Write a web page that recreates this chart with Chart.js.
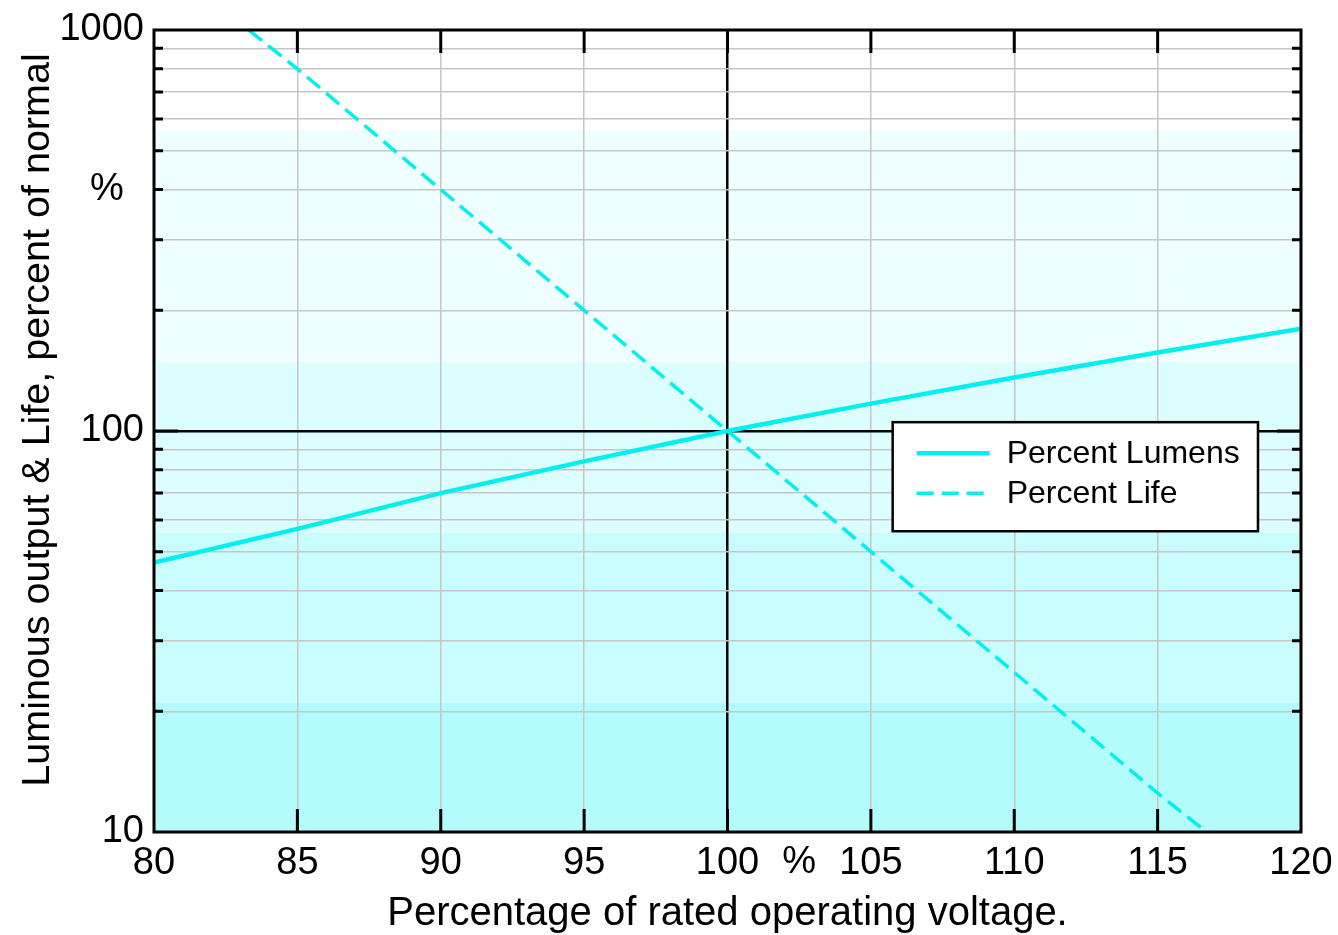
<!DOCTYPE html>
<html><head><meta charset="utf-8">
<script src="https://cdn.jsdelivr.net/npm/chart.js@4.4.1/dist/chart.umd.min.js"></script>
<style>html,body{margin:0;padding:0;background:#fff;overflow:hidden}#wrap{width:1338px;height:935px}</style>
</head><body><div id="wrap"><canvas id="c" width="1338" height="935"></canvas></div>
<script>
// ---- data ----
const lumensVoltage = [80, 85, 90, 95, 100, 105, 110, 115, 120];
const lumensPercent = [47, 57, 70, 84, 100, 117, 136, 157, 180];
const lifeVoltage = [83.3, 85, 90, 95, 100, 105, 110, 115, 116.7];
const lifePercent = [1000, 800, 400, 200, 100, 50, 25, 12.5, 10];
const xTicks = [80, 85, 90, 95, 100, 105, 110, 115, 120];
const yTicks = [10, 20, 30, 40, 50, 60, 70, 80, 90, 100, 200, 300, 400, 500, 600, 700, 800, 900, 1000];
const yLabels = {10: '10', 100: '100', 1000: '1000'};
const seriesNames = ['Percent Lumens', 'Percent Life'];
const xTitle = 'Percentage of rated operating voltage.';
const yTitle = 'Luminous output & Life, percent of normal';
const unitMark = '%';

const FONT = "'Liberation Sans', Arial, Helvetica, sans-serif";
const CYAN = '#00f0f0';

const bgPlugin = {
  id: 'bg',
  beforeDraw(chart) {
    const {ctx, chartArea: a} = chart;
    ctx.save();
    ctx.fillStyle = '#fff';
    ctx.fillRect(0, 0, chart.width, chart.height);
    const h = a.bottom - a.top;
    const bands = [[0, 0.125, '#ffffff'], [0.125, 0.414, '#effefe'], [0.414, 0.627, '#dcfefe'], [0.627, 0.839, '#cafdfd'], [0.839, 1, '#b4fcfc']];
    bands.forEach(([f0, f1, c]) => {
      ctx.fillStyle = c;
      ctx.fillRect(a.left, a.top + f0 * h, a.right - a.left, (f1 - f0) * h + 0.5);
    });
    ctx.restore();
  }
};

const framePlugin = {
  id: 'frame',
  afterDatasetsDraw(chart) {
    const {ctx, chartArea: {left, right, top, bottom}, scales: {x, y}} = chart;
    ctx.save();
    ctx.strokeStyle = '#000';
    ctx.lineWidth = 3;
    ctx.beginPath();
    yTicks.forEach(v => {
      if (v === 10 || v === 1000) return;
      const py = y.getPixelForValue(v);
      const len = v === 100 ? 24 : 9;
      ctx.moveTo(left, py); ctx.lineTo(left + len, py);
      ctx.moveTo(right, py); ctx.lineTo(right - len, py);
    });
    xTicks.forEach(v => {
      if (v === 80 || v === 120) return;
      const px = x.getPixelForValue(v);
      ctx.moveTo(px, bottom); ctx.lineTo(px, bottom - 23);
      ctx.moveTo(px, top); ctx.lineTo(px, top + 23);
    });
    ctx.stroke();
    ctx.strokeRect(left, top, right - left, bottom - top);

    // legend box
    const w = right - left, h = bottom - top;
    const bl = left + 0.644 * w, br = left + 0.9625 * w;
    const bt = top + 0.489 * h, bb = top + 0.625 * h;
    ctx.fillStyle = '#fff';
    ctx.fillRect(bl, bt, br - bl, bb - bt);
    ctx.lineWidth = 2.5;
    ctx.strokeRect(bl, bt, br - bl, bb - bt);
    const ds = chart.data.datasets;
    const rows = [bt + 31, bt + 71];
    ds.forEach((d, i) => {
      ctx.save();
      ctx.strokeStyle = d.borderColor;
      ctx.lineWidth = d.borderWidth;
      ctx.setLineDash(d.borderDash || []);
      ctx.beginPath();
      ctx.moveTo(bl + 24, rows[i]); ctx.lineTo(bl + 97, rows[i]);
      ctx.stroke();
      ctx.restore();
      ctx.fillStyle = '#000';
      ctx.font = '32px ' + FONT;
      ctx.textBaseline = 'middle';
      ctx.textAlign = 'left';
      ctx.fillText(d.label, bl + 114, rows[i] + 1);
    });

    // unit marks
    ctx.font = '38px ' + FONT;
    ctx.textAlign = 'center';
    ctx.textBaseline = 'middle';
    ctx.fillText(unitMark, 107, y.getPixelForValue(400));
    ctx.fillText(unitMark, x.getPixelForValue(102.5), bottom + 31);
    ctx.restore();
  }
};

new Chart(document.getElementById('c'), {
  type: 'scatter',
  data: {
    datasets: [
      {label: seriesNames[0], data: lumensVoltage.map((v, i) => ({x: v, y: lumensPercent[i]})),
        showLine: true, borderColor: CYAN, backgroundColor: CYAN, borderWidth: 4.5, pointRadius: 0, tension: 0},
      {label: seriesNames[1], data: lifeVoltage.map((v, i) => ({x: v, y: lifePercent[i]})),
        showLine: true, borderColor: CYAN, backgroundColor: CYAN, borderWidth: 3.5, borderDash: [17, 8], pointRadius: 0, tension: 0}
    ]
  },
  options: {
    responsive: false, animation: false, devicePixelRatio: 1,
    layout: {padding: {top: 30, right: 37, left: 0, bottom: 0}},
    plugins: {legend: {display: false}, tooltip: {enabled: false}},
    scales: {
      x: {
        type: 'linear', min: 80, max: 120,
        afterBuildTicks: s => { s.ticks = xTicks.map(v => ({value: v})); },
        afterFit: s => { s.height = 103; s.paddingLeft = 0; s.paddingRight = 0; },
        ticks: {font: {family: FONT, size: 38}, color: '#000', padding: 9, maxRotation: 0, autoSkip: false},
        grid: {color: c => (c.tick && c.tick.value === 100) ? '#000' : '#c6c6c6',
               lineWidth: c => (c.tick && c.tick.value === 100) ? 2.5 : 1.5, drawTicks: false},
        border: {display: false},
        title: {display: true, text: xTitle, color: '#000', font: {family: FONT, size: 40, lineHeight: 1}, padding: {top: 0, bottom: 1}}
      },
      y: {
        type: 'logarithmic', min: 10, max: 1000,
        afterBuildTicks: s => { s.ticks = yTicks.map(v => ({value: v})); },
        afterFit: s => { s.width = 154; s.paddingTop = 0; s.paddingBottom = 0; },
        ticks: {font: {family: FONT, size: 38}, color: '#000', padding: 10, autoSkip: false,
                callback: v => yLabels[v] || ''},
        grid: {color: c => (c.tick && c.tick.value === 100) ? '#000' : '#c6c6c6',
               lineWidth: c => (c.tick && c.tick.value === 100) ? 2.5 : 1.5, drawTicks: false},
        border: {display: false},
        title: {display: true, text: '  ' + yTitle, color: '#000', font: {family: FONT, size: 39.5, lineHeight: 1}, padding: {top: 18, bottom: 0}}
      }
    }
  },
  plugins: [bgPlugin, framePlugin]
});
</script></body></html>
